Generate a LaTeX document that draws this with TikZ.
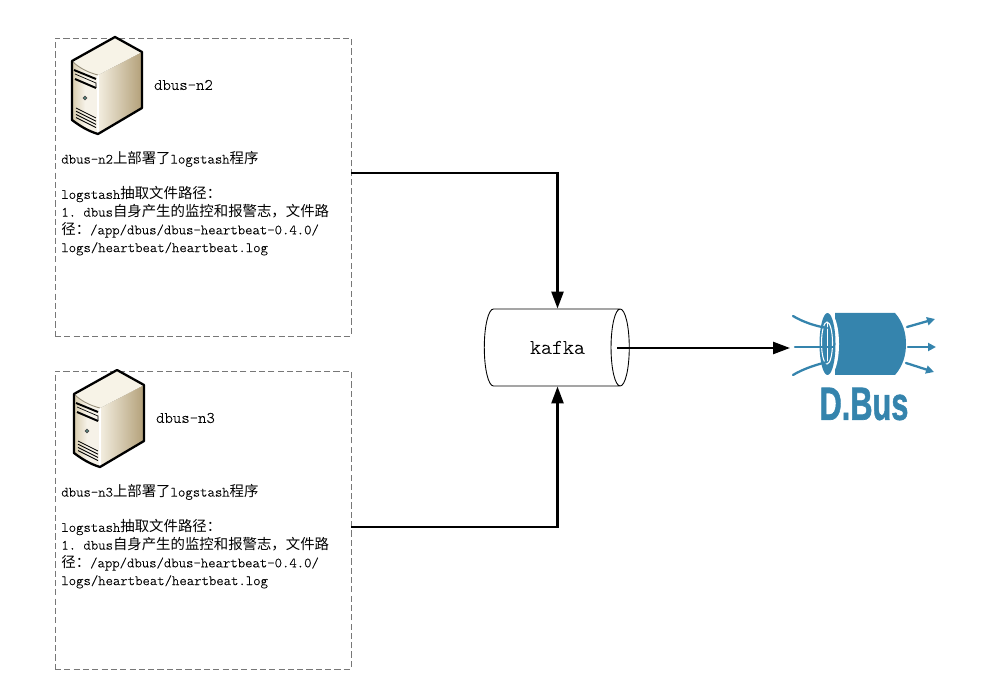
\documentclass[tikz,border=0pt]{standalone}
\usepackage{fontspec}
\usepackage{tikz}
\usetikzlibrary{shapes.geometric,positioning,calc}
\usetikzlibrary{arrows.meta}
\setmonofont[FakeBold=0.3]{Latin Modern Mono Light}
\newfontfamily\cjk{Noto Sans CJK SC}
\newfontfamily\logofont[FakeBold=1.5]{Liberation Sans}
\newcommand{\zh}[1]{{\fontsize{8.2}{10.1}\selectfont\cjk #1}}
\definecolor{dbusblue}{HTML}{3584AD}
\definecolor{boxgray}{HTML}{777777}
\definecolor{sidelight}{HTML}{F3EEE0}
\definecolor{sidedark}{HTML}{B3A079}
\definecolor{frontdark}{HTML}{D8CCAE}
\definecolor{frontlight}{HTML}{F6F2E8}
\definecolor{topcream}{HTML}{F7F3E7}
\definecolor{ledteal}{HTML}{5FA59A}
\tikzstyle{hostbox} = [rectangle, minimum width=5.92cm, minimum height=5.96cm, draw=boxgray, dash pattern=on 3.5pt off 1.8pt, line width=0.5pt]
\tikzstyle{hostname} = [font=\fontsize{9.1}{11}\selectfont\ttfamily]
\tikzstyle{hosttext} = [inner sep=0pt, anchor=north west, align=left, font=\fontsize{8}{10.1}\selectfont\ttfamily]
\tikzstyle{queue} = [cylinder, draw=black, line width=0.5pt, minimum height=2.9cm, minimum width=1.54cm, aspect=1.4, inner sep=0pt, font=\fontsize{11.9}{14}\selectfont\ttfamily]
\tikzstyle{arrow} = [line width=1.4pt,-{Triangle[length=0.34cm,width=0.24cm]}]
\tikzstyle{flow} = [dbusblue, line width=1.3pt, line cap=round]
\tikzstyle{flowout} = [flow, -{Triangle[length=0.16cm,width=0.16cm]}]
\tikzset{
	server/.pic={
		\fill[left color=sidelight, right color=sidedark] (26,14) -- (70,-9) -- (70,47) -- (26,73) -- cycle;
		\fill[left color=frontdark, right color=frontlight, middle color=frontlight] (0,0) .. controls (8,8) and (18,12) .. (26,14) -- (26,73) .. controls (16,70) and (8,65) .. (0,59) -- cycle;
		\fill[topcream] (0,0) -- (43,-24) -- (70,-9) -- (26,14) .. controls (18,12) and (8,8) .. (0,0) -- cycle;
		\draw[white, line width=0.7pt] (26,14) -- (26,73);
		\draw[frontdark!70!black, line width=0.5pt] (0,0) .. controls (8,8) and (18,12) .. (26,14);
		\draw[black, line width=1.3pt, line join=round] (0,0) -- (43,-24) -- (70,-9) -- (70,47) -- (26,73) .. controls (16,70) and (8,65) .. (0,59) -- cycle;
		\draw[black, line width=1.1pt] (2,9) -- (24,18) (3,18) -- (24,27);
		\draw[black, line width=0.4pt] (3,13) -- (24,22) -- (24,27);
		\filldraw[fill=ledteal, draw=black!70, line width=0.5pt] (13,37) circle (1.8);
		\foreach \i in {0,1,2,3}
			\draw[black, line width=0.5pt] (4,47+3.2*\i) -- (24,57+3.2*\i);
	}
}
\begin{document}
\begin{tikzpicture}[x=0.02cm,y=-0.02cm]
	\useasboundingbox (0,0) rectangle (993,685);
	\node (boxa) at (203,187) [hostbox] {};
	\pic at (72,61) {server};
	\node (namea) at (183.5,85) [hostname] {dbus-n2};
	\node (texta) at (61,151) [hosttext] {dbus-n2\zh{上部署了}logstash\zh{程序}\\[10pt]
		logstash\zh{抽取文件路径：}\\
		1. dbus\zh{自身产生的监控和报警志，文件路}\\
		\zh{径：}/app/dbus/dbus-heartbeat-0.4.0/\\
		logs/heartbeat/heartbeat.log};
	\node (boxb) at (203,520) [hostbox] {};
	\pic at (74,394) {server};
	\node (nameb) at (185.5,418) [hostname] {dbus-n3};
	\node (textb) at (61,484) [hosttext] {dbus-n3\zh{上部署了}logstash\zh{程序}\\[10pt]
		logstash\zh{抽取文件路径：}\\
		1. dbus\zh{自身产生的监控和报警志，文件路}\\
		\zh{径：}/app/dbus/dbus-heartbeat-0.4.0/\\
		logs/heartbeat/heartbeat.log};
	\node (kafka) at (552,347.5) [queue] {\hspace*{0.22cm}kafka};
	% logo
	\fill[dbusblue] (835,313) -- (895,313) .. controls (903,322) and (906,333) .. (906,344) .. controls (906,355) and (903,366) .. (895,375) -- (835,375) -- cycle;
	\fill[white] (829,344) ellipse (10 and 32);
	\fill[dbusblue] (827.5,344) ellipse (8 and 31);
	\draw[white, line width=0.6pt] (827,343) ellipse (5.5 and 21);
	\draw[white, line width=0.4pt] (827,322) -- (827,364);
	\draw[flow] (793,316) .. controls (803,322) and (815,326) .. (827,328);
	\draw[flow] (795,347) -- (833,347);
	\draw[flow] (793,375) .. controls (803,369) and (815,365) .. (827,362);
	\draw[flowout] (907,327) -- (935,319);
	\draw[flowout] (908,347) -- (936,347);
	\draw[flowout] (906,363) -- (934,372);
	\node (dbus) at (864,404) [inner sep=0pt, xscale=0.66, text=dbusblue, font=\fontsize{26.5}{28}\selectfont\logofont\bfseries] {D.Bus};
	% connectors
	\coordinate (outa) at (351,173);
	\coordinate (outb) at (351,527);
	\coordinate (outk) at (617,348);
	\coordinate (ind) at (790,348);
	\draw[arrow] (outa) -| ([xshift=0.11cm]kafka.north);
	\draw[arrow] (outb) -| ([xshift=0.11cm]kafka.south);
	\draw[arrow] (outk) -- (ind);
\end{tikzpicture}
\end{document}
